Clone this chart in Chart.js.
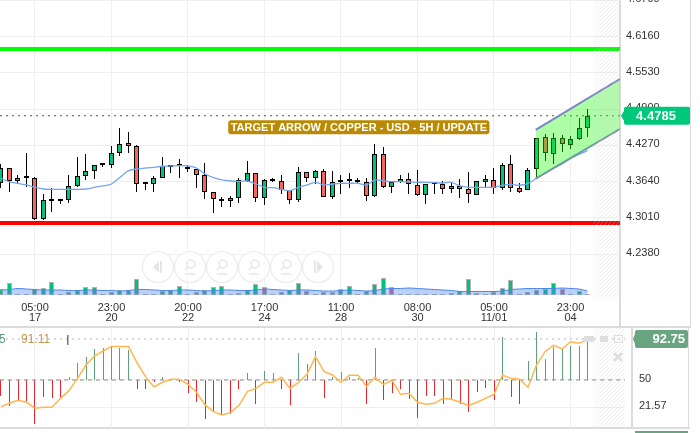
<!DOCTYPE html>
<html>
<head>
<meta charset="utf-8">
<title>Copper USD 5H</title>
<script src="https://cdn.jsdelivr.net/npm/chart.js@4/dist/chart.umd.min.js"></script>
<style>
    html, body { margin: 0; padding: 0; background: #fff; overflow: hidden; }
    #page { position: relative; width: 700px; height: 433px; overflow: hidden; }
    canvas { position: absolute; left: 0; }
    #priceChart { top: 0; }
    #rsiChart { top: 328px; }
    .rule { position: absolute; background: #dcdcdc; }
</style>
</head>
<body>
<div id="page">
    <div class="rule" style="left:0;top:326px;width:691px;height:2px"></div>
    <div class="rule" style="left:0;top:427px;width:690px;height:2px"></div>
    <div class="rule" style="left:619px;top:0;width:2px;height:327px"></div>
    <div class="rule" style="left:690px;top:0;width:1px;height:327px"></div>
    <div class="rule" style="left:631px;top:328px;width:2px;height:100px"></div>
    <div class="rule" style="left:688px;top:328px;width:1px;height:100px"></div>
    <div class="rule" style="left:635px;top:431px;width:53px;height:2px;background:#6aa582"></div>
    <canvas id="priceChart" width="700" height="328"></canvas>
    <canvas id="rsiChart" width="700" height="100"></canvas>
</div>
<script>
// candles, oldest first
const opens = [4.3614,4.3874,4.3652,4.37,4.37,4.2989,4.3312,4.3312,4.3319,4.3562,4.3735,4.3822,4.3926,4.3926,4.4133,4.4307,4.4255,4.3596,4.3596,4.37,4.3908,4.3908,4.3891,4.3856,4.3752,4.3458,4.3336,4.3302,4.3354,4.3648,4.3787,4.3354,4.3648,4.3648,4.3492,4.3319,4.3804,4.37,4.3822,4.3371,4.3631,4.3648,4.3648,4.3631,4.3388,4.4116,4.3544,4.3631,4.3683,4.3579,4.3406,4.3596,4.3596,4.351,4.3562,4.351,4.3406,4.3631,4.3666,4.3527,4.3943,4.3527,4.3492,4.3856,4.4411,4.4116,4.4394,4.4272,4.4376,4.4567];
const highs = [4.3943,4.3874,4.3757,4.4133,4.3727,4.3423,4.3527,4.3336,4.3757,4.4064,4.4116,4.3926,4.397,4.426,4.4567,4.4498,4.4277,4.364,4.374,4.4064,4.3926,4.403,4.3926,4.3856,4.396,4.3458,4.338,4.3393,4.37,4.3995,4.3787,4.3683,4.37,4.3752,4.3492,4.3891,4.3804,4.3839,4.3856,4.3822,4.3752,4.3787,4.37,4.37,4.4289,4.4237,4.3631,4.3752,4.3787,4.3839,4.3596,4.3631,4.3648,4.3631,4.3683,4.3804,4.3648,4.3752,4.3874,4.396,4.4099,4.3614,4.3874,4.4394,4.4463,4.448,4.4446,4.4428,4.4741,4.4897];
const lows = [4.3527,4.3458,4.3596,4.3544,4.2975,4.2975,4.3119,4.3253,4.3267,4.3544,4.3666,4.3692,4.3891,4.3883,4.4094,4.4133,4.3467,4.3496,4.3458,4.37,4.3787,4.3706,4.3804,4.3527,4.3336,4.3102,4.3206,4.3197,4.3267,4.3631,4.3284,4.3232,4.3631,4.3423,4.325,4.3284,4.3631,4.3596,4.3371,4.3336,4.3423,4.3527,4.3614,4.3302,4.3371,4.3527,4.344,4.3614,4.3423,4.3388,4.325,4.3423,4.3423,4.344,4.3354,4.3267,4.3406,4.3544,4.3423,4.3492,4.3458,4.344,4.3492,4.3718,4.4005,4.3952,4.4151,4.4203,4.4359,4.4411];
const closes = [4.3874,4.3652,4.37,4.37,4.2989,4.3319,4.3312,4.3312,4.3562,4.3735,4.3822,4.3926,4.3926,4.4133,4.4289,4.4255,4.3596,4.3596,4.37,4.3908,4.3891,4.3908,4.3856,4.3752,4.3458,4.3336,4.3302,4.3354,4.3666,4.3787,4.3354,4.3666,4.3666,4.3492,4.3319,4.3804,4.37,4.3822,4.3371,4.3631,4.3666,4.3666,4.3631,4.3388,4.4116,4.3544,4.3631,4.3683,4.3596,4.3406,4.3596,4.3596,4.351,4.3562,4.351,4.3423,4.3648,4.3683,4.3527,4.3926,4.3527,4.3458,4.3839,4.4394,4.4133,4.4394,4.4289,4.4376,4.4567,4.4785];
const maValues = [4.3699,4.3635,4.3612,4.3583,4.3543,4.3513,4.3508,4.3508,4.3508,4.3508,4.3513,4.3543,4.3566,4.36,4.3717,4.3831,4.3861,4.3878,4.389,4.3908,4.3913,4.3918,4.3913,4.3878,4.3774,4.371,4.367,4.3652,4.3647,4.3652,4.36,4.3543,4.3536,4.3508,4.3484,4.3543,4.3583,4.363,4.3583,4.36,4.3612,4.3612,4.3612,4.3583,4.367,4.3652,4.364,4.364,4.3635,4.363,4.363,4.3623,4.3618,4.363,4.3566,4.3543,4.3543,4.3543,4.3543,4.3578,4.3595,4.3578,4.3612,4.3699,4.3786,4.3873,4.3947,4.4046,4.4116,4.4178];

const volumes = [5.7,11.7,1,1,6.3,7.3,12.7,1,3.3,5,8.3,8.3,1,3.3,5,5,15.7,1,1,4.3,5,9.3,1,3.3,5,8.3,9.3,1,1.7,5,11.3,8.3,1,3.3,5,11.7,4,1,3.3,3.3,6.3,9.3,1,4,10.7,17.3,7.7,1,1,1,1,1,1,2.3,4.3,16.3,2.3,1,3,7.3,15,1,3.3,5,6.3,12.3,6.3,1,4,1];
const volumeAverage = [5,5.5,6.5,6,5.5,5,5,5,4.5,4.5,5,5,4.5,4.5,4,4.5,5.5,5.5,5,4.5,4.5,5,5,4.5,4,4.5,5,5,4.5,4.5,5,6,5.5,5,4.5,5,5,4.5,4,4,4.5,5,4.5,4,4.5,6,6.5,6.5,7,6.5,6,5.5,5,4.5,3.5,3.5,3.5,3.5,3.5,4,5.5,6,6.5,6.5,6.5,6.5,7,6.5,6,4];
const volumeDownBars = [31,36,39,46,56,66];

const oscillator = [33.7,23.3,29.2,28.1,3.8,32,30.9,32,52.8,67.4,74.3,81.9,83,84.7,83.7,81.2,40.3,40.3,47.6,53.5,50.3,48.3,36.1,26.8,9.1,16.3,13.6,14.3,40.3,56.9,25.4,59,56.9,40.3,23.6,77.8,66.3,79.8,30.9,53.5,58,53.5,51.7,24.7,83,28.8,36.8,41,29.9,10.1,33,33,24.7,29.9,24.7,16.3,37.2,41.3,28.8,95.1,32,24.7,69.8,99.6,71.5,84.7,83,85.7,85.7,91.6];
const rsiValues = [22.2,25.7,28.8,26.8,20.5,21.5,21.5,30.9,38.9,51.7,65.6,75,80.2,85,85,85,68,53.5,42.7,47.6,50.7,50.7,45.5,37.2,24,17,13.6,16,23.6,38.2,41.3,47.6,47.6,52.8,41.3,47.6,55.9,74.3,59,55.2,47.6,54.9,54.9,43.4,52.8,45.5,49.7,35.1,36.1,26.8,24.7,25.7,30.9,29.9,26.8,23.6,26.8,30.9,35.1,54.9,51.7,50.7,42.4,65.6,79.5,86.4,82.3,89.9,88.2,92];

const priceTicks = [4.679, 4.616, 4.553, 4.49, 4.427, 4.364, 4.301, 4.238];
const rsiTicks = [21.57, 50];
const timeTickIndexes = [4, 13, 22, 31, 40, 49, 58, 67];
const timeTickLabels = [['05:00','17'],['23:00','20'],['20:00','22'],['17:00','24'],['11:00','28'],['08:00','30'],['05:00','11/01'],['23:00','04']];

// levels drawn on the chart
const resistance = 4.5944;
const support = 4.2923;
const lastPrice = 4.4785;
const lastRsi = 92.75;
const channelStart = 62.9;
const channelEnd = 72.8;
const channelTop = [4.4538, 4.5423];
const channelBottom = [4.3692, 4.4555];

const noteText = 'TARGET ARROW / COPPER - USD - 5H / UPDATE';
const FONT = '"Liberation Sans", Arial, sans-serif';
const GRID = '#efefef';
const UP = '#00c27a';
const DOWN = '#f5665c';

// x range shared by both panes: one candle is 8.5px wide
const xMin = -1 / 8.5;
const priceXMax = 619 / 8.5;
const rsiXMax = 624 / 8.5;

function toPoints(values) {
    return values.map((v, i) => ({ x: i, y: v }));
}

function level(value, xEnd) {
    return [{ x: xMin, y: value }, { x: xEnd, y: value }];
}

function noPadding(scale) {
    scale.paddingTop = 0;
    scale.paddingBottom = 0;
    scale.paddingLeft = 0;
    scale.paddingRight = 0;
}

// snap bars to whole pixels so wicks and the thin bars stay sharp
const crispBars = {
    id: 'crispBars',
    afterDatasetsUpdate(chart) {
        chart.getSortedVisibleDatasetMetas().forEach(meta => {
            if (meta.type !== 'bar') return;
            meta.data.forEach(el => {
                el.x = Math.floor(el.x) + 0.5;
                el.y = Math.round(el.y);
                el.base = Math.round(el.base);
            });
        });
    }
};

function hatchPlugin(startX, bottom) {
    return {
        id: 'hatch',
        afterDatasetsDraw(chart) {
            const ctx = chart.ctx;
            const right = chart.chartArea.right;
            ctx.save();
            ctx.beginPath();
            ctx.rect(startX, 0, right - startX, bottom);
            ctx.clip();
            ctx.strokeStyle = 'rgba(205,205,205,0.3)';
            ctx.lineWidth = 1;
            for (let x = startX - bottom; x < right + bottom; x += 4) {
                ctx.beginPath();
                ctx.moveTo(x, bottom);
                ctx.lineTo(x + bottom, 0);
                ctx.stroke();
            }
            ctx.restore();
        }
    };
}

function drawBadge(ctx, left, right, centerY, arrowX, color, text, textX, align) {
    ctx.fillStyle = color;
    ctx.beginPath();
    ctx.moveTo(arrowX, centerY);
    ctx.lineTo(left, centerY - 5);
    ctx.lineTo(left, centerY - 7);
    ctx.arcTo(left, centerY - 9, left + 2, centerY - 9, 2);
    ctx.lineTo(right - 2, centerY - 9);
    ctx.arcTo(right, centerY - 9, right, centerY - 7, 2);
    ctx.lineTo(right, centerY + 7);
    ctx.arcTo(right, centerY + 9, right - 2, centerY + 9, 2);
    ctx.lineTo(left + 2, centerY + 9);
    ctx.arcTo(left, centerY + 9, left, centerY + 7, 2);
    ctx.lineTo(left, centerY + 5);
    ctx.closePath();
    ctx.fill();
    ctx.fillStyle = '#fff';
    ctx.font = 'bold 13px ' + FONT;
    ctx.textAlign = align;
    ctx.textBaseline = 'middle';
    ctx.fillText(text, textX, centerY + 0.5);
}

// target note and last price tag
const priceOverlay = {
    id: 'priceOverlay',
    afterDraw(chart) {
        const ctx = chart.ctx;
        const noteX = chart.scales.x.getPixelForValue(42.1);
        const noteY = chart.scales.y.getPixelForValue(4.4585);
        ctx.save();
        ctx.font = 'bold 11px ' + FONT;
        const w = ctx.measureText(noteText).width + 5;
        ctx.fillStyle = '#bb8a05';
        ctx.beginPath();
        ctx.roundRect(noteX - w / 2, noteY - 7, w, 14, 3);
        ctx.fill();
        ctx.fillStyle = '#fff';
        ctx.textAlign = 'center';
        ctx.textBaseline = 'middle';
        ctx.fillText(noteText, noteX, noteY + 0.5);

        drawBadge(ctx, 624, 690, chart.scales.y.getPixelForValue(lastPrice), 621, '#00c87a',
            lastPrice.toFixed(4), 656, 'center');
        ctx.restore();
    }
};

// zoom and pan buttons that float over the chart
const zoomButtons = {
    id: 'zoomButtons',
    afterDatasetsDraw(chart) {
        const ctx = chart.ctx;
        const centers = [158, 190, 222, 254, 286, 318];
        const y = 267;
        ctx.save();
        centers.forEach((x, i) => {
            ctx.strokeStyle = '#ececec';
            ctx.fillStyle = 'rgba(255,255,255,0.7)';
            ctx.lineWidth = 1.2;
            ctx.beginPath();
            ctx.arc(x, y, 15.5, 0, Math.PI * 2);
            ctx.fill();
            ctx.stroke();
            ctx.fillStyle = '#e6e6e6';
            ctx.strokeStyle = '#e6e6e6';
            if (i === 0 || i === 5) {
                const dir = i === 0 ? -1 : 1;
                ctx.fillRect(x - dir * 3 - 1, y - 6, 2, 12);
                ctx.beginPath();
                ctx.moveTo(x + dir * 5, y);
                ctx.lineTo(x - dir * 1, y - 6);
                ctx.lineTo(x - dir * 1, y + 6);
                ctx.closePath();
                ctx.fill();
            } else {
                ctx.lineWidth = 1.5;
                ctx.beginPath();
                ctx.arc(x + 1, y - 3, 4, 0, Math.PI * 2);
                ctx.moveTo(x - 2, y);
                ctx.lineTo(x - 5, y + 3);
                ctx.moveTo(x - 5, y + 7);
                ctx.lineTo(x + 5, y + 7);
                ctx.stroke();
            }
        });
        ctx.restore();
    }
};

// legend values, window icons and the last value tag of the lower pane
const rsiOverlay = {
    id: 'rsiOverlay',
    afterDraw(chart) {
        const ctx = chart.ctx;
        const y = chart.scales.y.getPixelForValue(lastRsi);
        ctx.save();
        ctx.font = '12px ' + FONT;
        ctx.textBaseline = 'middle';
        ctx.textAlign = 'left';
        ctx.fillStyle = '#5f9a7c';
        ctx.fillText('5', -1, y + 1);
        ctx.fillStyle = '#c8964a';
        ctx.fillText('91.11', 21, y + 1);
        ctx.fillStyle = '#777';
        ctx.fillRect(67, y - 4, 1.5, 10);

        ctx.fillStyle = '#dedede';
        ctx.fillRect(584, y - 3, 10, 6);
        ctx.fillRect(600, y - 3, 8, 6);
        ctx.strokeStyle = '#dedede';
        ctx.lineWidth = 1;
        ctx.strokeRect(614.5, y - 3.5, 8, 7);
        ctx.lineWidth = 2.5;
        ctx.beginPath();
        ctx.moveTo(614, y + 14);
        ctx.lineTo(622, y + 22);
        ctx.moveTo(622, y + 14);
        ctx.lineTo(614, y + 22);
        ctx.stroke();

        drawBadge(ctx, 635, 688, y, 633, '#6aa582', lastRsi.toFixed(2), 685, 'right');
        ctx.restore();
    }
};

new Chart(document.getElementById('priceChart'), {
    data: {
        datasets: [
            {
                type: 'bar', yAxisID: 'yVol', order: 9, grouped: false,
                data: volumes.map((v, i) => ({ x: i, y: [0, v] })),
                backgroundColor: volumes.map((v, i) => volumeDownBars.includes(i) ? '#d8607c' : UP),
                borderColor: '#b4b4b4', borderWidth: 1, borderSkipped: false, inflateAmount: 0,
                barThickness: 5, minBarLength: 1
            },
            {
                type: 'line', yAxisID: 'yVol', order: 8,
                data: toPoints(volumeAverage),
                borderColor: '#4a86e8', borderWidth: 1,
                backgroundColor: 'rgba(80,130,235,0.38)', fill: 'origin',
                pointRadius: 0, tension: 0.3
            },
            {
                type: 'bar', yAxisID: 'y', order: 7, grouped: false,
                data: highs.map((h, i) => ({ x: i, y: [lows[i], h] })),
                backgroundColor: '#000', borderWidth: 0, inflateAmount: 0, barThickness: 1
            },
            {
                type: 'bar', yAxisID: 'y', order: 6, grouped: false,
                data: opens.map((o, i) => ({ x: i, y: [o, closes[i]] })),
                backgroundColor: opens.map((o, i) => closes[i] >= o ? UP : DOWN),
                borderColor: '#000', borderWidth: 1, borderSkipped: false, inflateAmount: 0,
                barThickness: 5, minBarLength: 2
            },
            {
                type: 'line', yAxisID: 'y', order: 5,
                data: toPoints(maValues),
                borderColor: '#74a7ee', borderWidth: 1.3, pointRadius: 0, tension: 0.3, fill: false
            },
            {
                type: 'line', yAxisID: 'y', order: 4,
                data: level(resistance, priceXMax),
                borderColor: '#00ff00', borderWidth: 4, pointRadius: 0, fill: false
            },
            {
                type: 'line', yAxisID: 'y', order: 4,
                data: level(support, priceXMax),
                borderColor: '#ff0000', borderWidth: 4, pointRadius: 0, fill: false
            },
            {
                type: 'line', yAxisID: 'y', order: 3,
                data: level(lastPrice, priceXMax),
                borderColor: '#555', borderWidth: 1, borderDash: [2, 4], pointRadius: 0, fill: false
            },
            {
                type: 'line', yAxisID: 'y', order: 2,
                data: [{ x: channelStart, y: channelTop[0] }, { x: channelEnd, y: channelTop[1] }],
                borderColor: '#7f84c8', borderWidth: 2, pointRadius: 0,
                backgroundColor: 'rgba(40,255,20,0.38)', fill: '+1'
            },
            {
                type: 'line', yAxisID: 'y', order: 2,
                data: [{ x: channelStart, y: channelBottom[0] }, { x: channelEnd, y: channelBottom[1] }],
                borderColor: '#7f84c8', borderWidth: 2, pointRadius: 0, fill: false
            }
        ]
    },
    options: {
        responsive: false,
        animation: false,
        events: [],
        plugins: { legend: { display: false }, tooltip: { enabled: false } },
        scales: {
            x: {
                type: 'linear', min: xMin, max: priceXMax, offset: false,
                afterBuildTicks: s => { s.ticks = timeTickIndexes.map(v => ({ value: v })); },
                afterFit: s => { noPadding(s); s.height = 32; },
                grid: { color: GRID, drawTicks: false, offset: false },
                border: { display: false },
                ticks: {
                    autoSkip: false, maxRotation: 0, padding: 7, color: '#333',
                    font: { family: FONT, size: 11, lineHeight: 0.92 },
                    callback: v => timeTickLabels[timeTickIndexes.indexOf(v)]
                }
            },
            y: {
                position: 'right', min: 4.1656, max: 4.6794,
                afterBuildTicks: s => { s.ticks = priceTicks.map(v => ({ value: v })); },
                afterFit: s => { noPadding(s); s.width = 80; },
                grid: { color: GRID, drawTicks: false },
                border: { display: false },
                ticks: {
                    autoSkip: false, padding: 6, labelOffset: -1, color: '#333',
                    font: { family: FONT, size: 11 },
                    callback: v => v.toFixed(4)
                }
            },
            yVol: { display: false, min: -1, max: 295 }
        }
    },
    plugins: [crispBars, zoomButtons, hatchPlugin(593, 298), priceOverlay]
});

new Chart(document.getElementById('rsiChart'), {
    data: {
        datasets: [
            {
                type: 'bar', order: 5, grouped: false,
                data: oscillator.map((v, i) => ({ x: i, y: [50, v] })),
                backgroundColor: oscillator.map(v => v >= 50 ? '#5f9f7c' : '#e8262c'),
                borderWidth: 0, inflateAmount: 0, barThickness: 1
            },
            {
                type: 'line', order: 4,
                data: level(50, rsiXMax),
                borderColor: '#8c8c8c', borderWidth: 1, borderDash: [4, 4], pointRadius: 0, fill: false
            },
            {
                type: 'line', order: 3,
                data: level(lastRsi, rsiXMax),
                borderColor: '#b5b5b5', borderWidth: 1, borderDash: [2, 4], pointRadius: 0, fill: false
            },
            {
                type: 'line', order: 2,
                data: toPoints(rsiValues),
                borderColor: '#ffb74d', borderWidth: 1.5, pointRadius: 0, tension: 0, fill: false
            }
        ]
    },
    options: {
        responsive: false,
        animation: false,
        events: [],
        plugins: { legend: { display: false }, tooltip: { enabled: false } },
        scales: {
            x: {
                type: 'linear', min: xMin, max: rsiXMax, offset: false,
                afterBuildTicks: s => { s.ticks = timeTickIndexes.map(v => ({ value: v })); },
                afterFit: s => { noPadding(s); s.height = 0; },
                grid: { color: GRID, drawTicks: false, offset: false },
                border: { display: false },
                ticks: { display: false }
            },
            y: {
                position: 'right', min: 0, max: 104.16,
                afterBuildTicks: s => { s.ticks = rsiTicks.map(v => ({ value: v })); },
                afterFit: s => { noPadding(s); s.width = 75; },
                grid: { color: GRID, drawTicks: false },
                border: { display: false },
                ticks: {
                    autoSkip: false, padding: 14, labelOffset: -1, color: '#333',
                    font: { family: FONT, size: 11 },
                    callback: v => String(v)
                }
            }
        }
    },
    plugins: [crispBars, hatchPlugin(593, 100), rsiOverlay]
});
</script>
</body>
</html>
